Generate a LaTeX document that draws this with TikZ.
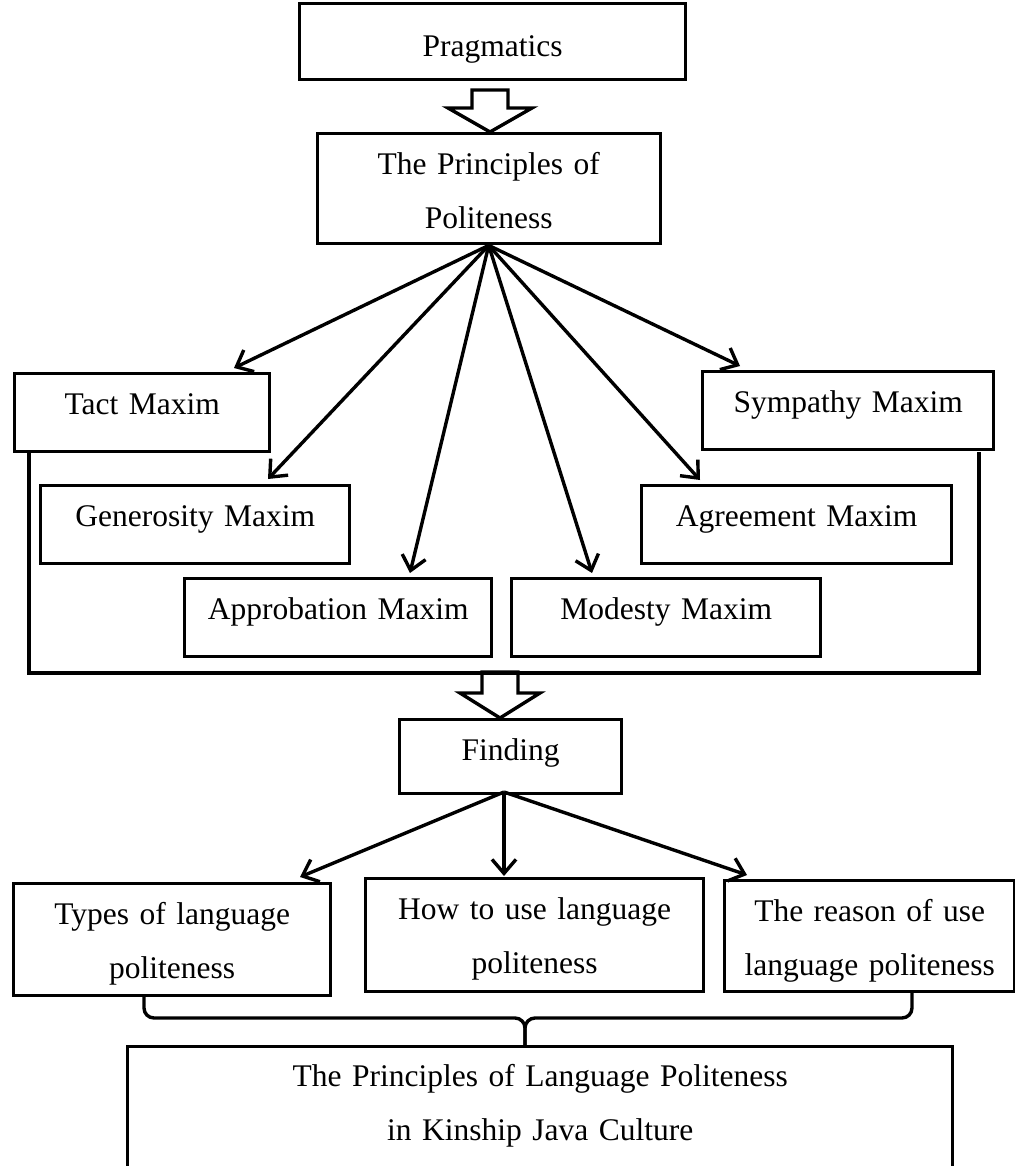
\documentclass[tikz,border=0pt]{standalone}
\usepackage{fontspec}
\setmainfont{Liberation Serif}
\usetikzlibrary{arrows.meta}

\begin{document}
\begin{tikzpicture}[x=0.5pt, y=-0.5pt,
		box/.style={draw, line width=1.7pt, fill=white, inner xsep=0pt, inner ysep=0pt, anchor=north west, align=center, font=\fontsize{15.75pt}{27pt}\selectfont},
		onebox/.style={box, text height=20.5pt, text depth=18.5pt},
		twobox/.style={box, text height=20.5pt, text depth=35.5pt},
		link/.style={line width=1.7pt, -{Straight Barb[length=7pt,width=12pt,line width=1.7pt]}},
		thick line/.style={line width=1.7pt}]
		\useasboundingbox (0,0) rectangle (1014,1166);
		% frame round the maxims
		\draw[thick line] (29,450) -- (29,673) -- (979,673) -- (979,452);
		\node[onebox, text height=26.5pt, text depth=11.5pt, text width=193pt] (prag) at (298,2) {Pragmatics};
		\node[twobox, text depth=34.5pt, text width=171.5pt] (princ) at (315.5,132) {The Principles of\\Politeness};
		\node[onebox, text width=127.5pt] (tact) at (13,372) {Tact Maxim};
		\node[onebox, text width=145.5pt] (symp) at (701,370) {Sympathy Maxim};
		\node[onebox, text width=154.5pt] (gen) at (39,484) {Generosity Maxim};
		\node[onebox, text width=155pt] (agr) at (640,484) {Agreement Maxim};
		\node[onebox, text width=153.5pt] (appr) at (183,577) {Approbation Maxim};
		\node[onebox, text width=154.5pt] (mod) at (510,577) {Modesty Maxim};
		\node[onebox, text depth=16.5pt, text width=111pt] (find) at (398,718) {Finding};
		\node[twobox, text width=158.5pt] (types) at (12,882) {Types of language\\politeness};
		\node[twobox, text depth=36pt, text width=169pt] (how) at (364,877) {How to use language\\politeness};
		\node[twobox, text depth=35pt, text width=145pt] (reason) at (723,879) {The reason of use\\language politeness};
		\node[twobox, text height=20pt, text depth=45pt, text width=412.5pt] (final) at (126,1045) {The Principles of Language Politeness\\in Kinship Java Culture};
		% block arrows
		\draw[thick line] (472,90) -- (508,90) -- (508,108) -- (532,108) -- (490,132) -- (448,108) -- (472,108) -- cycle;
		\draw[thick line] (482,672) -- (518,672) -- (518,693) -- (540,693) -- (500,718) -- (460,693) -- (482,693) -- cycle;
		% arrow ends
		\coordinate (fan) at (princ.south);
		\coordinate (tact-in) at (234,368);
		\coordinate (gen-in) at (268,479);
		\coordinate (appr-in) at (410,573);
		\coordinate (mod-in) at (592,573);
		\coordinate (agr-in) at (700,480);
		\coordinate (symp-in) at (740,366);
		\foreach \t in {tact,gen,appr,mod,agr,symp}
			\draw[link] (fan) -- (\t-in);
		\coordinate (out) at (504,792);
		\coordinate (types-in) at (300,877);
		\coordinate (how-in) at (504,876);
		\coordinate (reason-in) at (747,875);
		\foreach \t in {types,how,reason}
			\draw[link] (out) -- (\t-in);
		% brace
		\coordinate (brace-l) at (144,994);
		\coordinate (brace-r) at (912,990);
		\coordinate (brace-m) at (525,1018);
		\draw[thick line, rounded corners=5pt] (brace-l) |- (brace-m) -- (brace-m |- final.north);
		\draw[thick line, rounded corners=5pt] (brace-r) |- (brace-m) -- (brace-m |- final.north);
\end{tikzpicture}
\end{document}
